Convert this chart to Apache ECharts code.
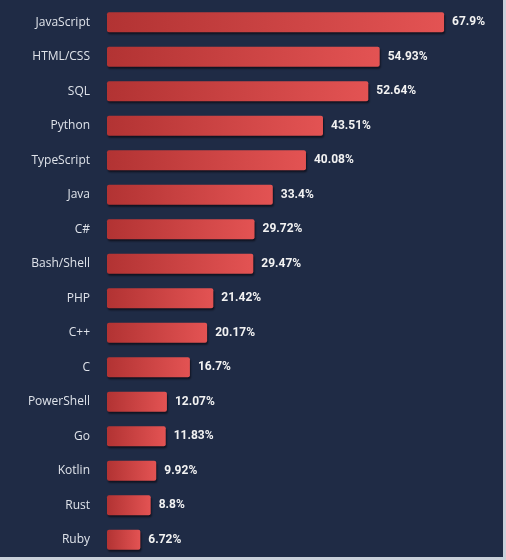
<!DOCTYPE html>
<html>
<head>
<meta charset="utf-8">
<script src="https://cdn.jsdelivr.net/npm/echarts@6/dist/echarts.min.js"></script>
<style>
  html, body { margin: 0; padding: 0; background: #c9d0da; }
  #chart { width: 503px; height: 557px; background: #1f2b45; }
</style>
</head>
<body>
<div id="chart"></div>
<script>
const languages = ['JavaScript', 'HTML/CSS', 'SQL', 'Python', 'TypeScript', 'Java', 'C#', 'Bash/Shell', 'PHP', 'C++', 'C', 'PowerShell', 'Go', 'Kotlin', 'Rust', 'Ruby'];
const shares = [67.9, 54.93, 52.64, 43.51, 40.08, 33.4, 29.72, 29.47, 21.42, 20.17, 16.7, 12.07, 11.83, 9.92, 8.8, 6.72];

const chart = echarts.init(document.getElementById('chart'), null, { renderer: 'canvas' });
chart.setOption({
  backgroundColor: '#1f2b45',
  animation: false,
  grid: { left: 107, right: 48.5, top: 5, height: 553, containLabel: false },
  xAxis: {
    type: 'value', min: 0, max: 70,
    show: false
  },
  yAxis: {
    type: 'category',
    data: languages,
    inverse: true,
    axisLine: { show: false },
    axisTick: { show: false },
    axisLabel: {
      color: '#dfe3ea',
      fontFamily: 'Open Sans',
      fontSize: 12,
      margin: 17
    }
  },
  series: [{
    type: 'bar',
    data: shares,
    barWidth: 20,
    itemStyle: {
      color: new echarts.graphic.LinearGradient(0, 0, 1, 0, [
        { offset: 0, color: '#b23333' },
        { offset: 1, color: '#e35353' }
      ]),
      borderRadius: 2,
      shadowColor: 'rgba(10,10,20,0.75)',
      shadowBlur: 2,
      shadowOffsetX: 1,
      shadowOffsetY: 2
    },
    label: {
      show: true,
      position: 'right',
      distance: 8,
      color: '#f2f2f2',
      fontFamily: 'Roboto',
      fontWeight: 'bold',
      fontSize: 12,
      formatter: p => p.value + '%'
    }
  }]
});
</script>
</body>
</html>
